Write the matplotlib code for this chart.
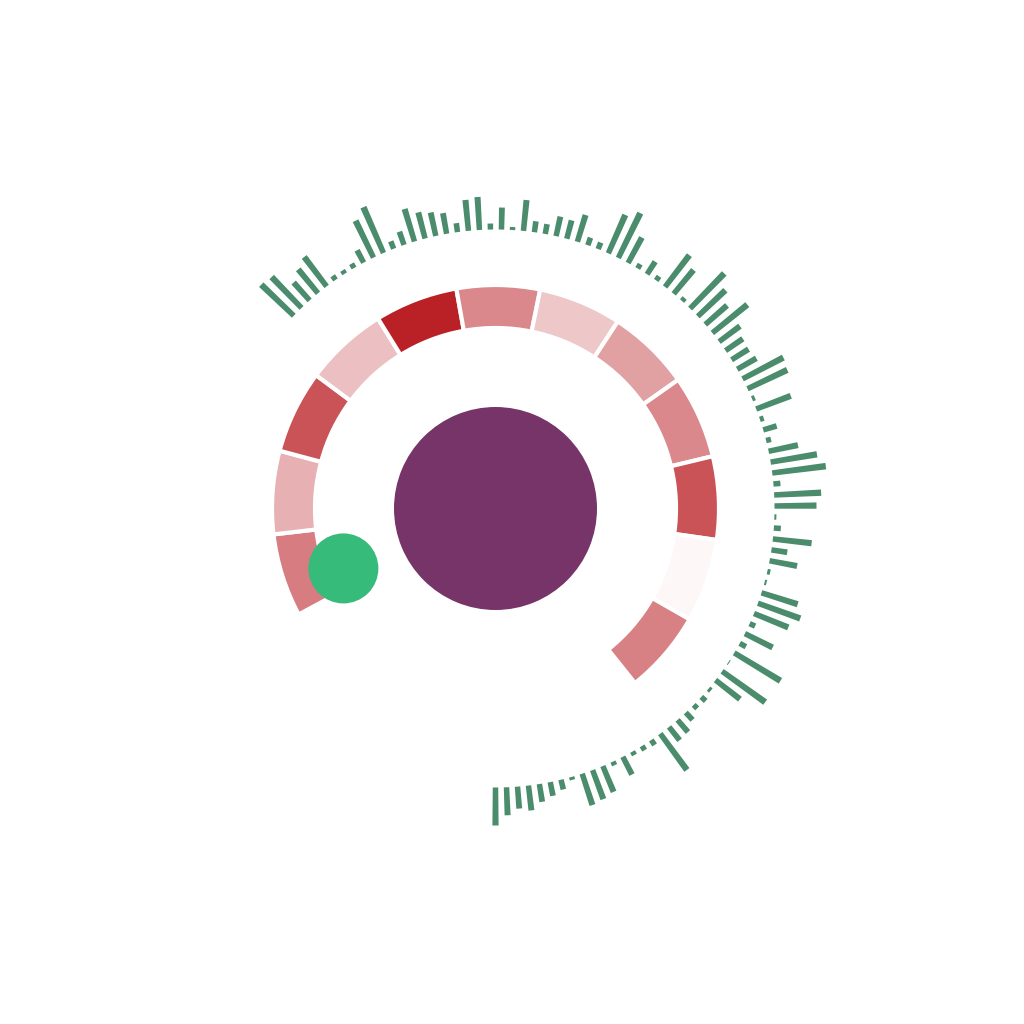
import numpy as np
import matplotlib
matplotlib.use("Agg")
import matplotlib.pyplot as plt
from matplotlib.colors import LinearSegmentedColormap

# ---------------- data ----------------
ring_values = [0.58, 0.34, 0.77, 0.27, 1.0, 0.53, 0.24, 0.42, 0.53, 0.77, 0.02, 0.56]
bar_values = [38, 28, 22, 25, 18, 14, 10, 3, 33, 31,
              28, 4, 20, 4, 5, 6, 45, 17, 16, 10,
              5, 6, 3, 31, 53, 1, 54, 7, 31, 6,
              37, 45, 38, 2, 3, 28, 16, 39, 7, 2,
              42, 47, 7, 54, 47, 30, 5, 14, 4, 37,
              3, 44, 46, 22, 20, 21, 26, 45, 29, 38,
              49, 4, 31, 40, 5, 15, 5, 29, 50, 42,
              7, 8, 28, 19, 20, 10, 11, 31, 3, 22,
              6, 33, 31, 9, 21, 24, 27, 34, 14, 8,
              50, 41, 14, 5, 4, 5, 37, 31, 24, 43, 45]
center_value = 101.5
dot_angle_deg = -111.5
dot_radius = 163.5

# ---------------- layout ----------------
W = 1024
cx, cy = 495.5, 1024 - 508.5
R = 420
fig = plt.figure(figsize=(W / 100, W / 100), dpi=100)
ax = fig.add_axes([(cx - R) / W, (cy - R) / W, 2 * R / W, 2 * R / W], projection="polar")
ax.set_theta_zero_location("N")
ax.set_theta_direction(-1)
ax.set_ylim(0, R)
ax.axis("off")

# ring of segments
cmap = LinearSegmentedColormap.from_list("reds", ["#fefbfb", "#ba2127"])
ring_start = -118.3
ring_step = 21.64
n_ring = len(ring_values)
ring_theta = np.deg2rad(ring_start + ring_step * (np.arange(n_ring) + 0.5))
ax.bar(ring_theta, 43, width=np.deg2rad(ring_step), bottom=180.5,
       color=[cmap(v) for v in ring_values], edgecolor="white", linewidth=3, align="center")

# outer green bars
bar_step = 2.263
bar_theta = np.deg2rad(180 - bar_step * np.arange(len(bar_values)))
ax.bar(bar_theta, bar_values, width=np.deg2rad(1.12), bottom=279,
       color="#4a8c6c", edgecolor="none", align="center")

# centre disk
ax.bar(0, center_value, width=2 * np.pi, bottom=0, color="#763468", edgecolor="none")

# green dot
ax.scatter([np.deg2rad(dot_angle_deg)], [dot_radius], s=(70 * 0.72) ** 2,
           color="#36bb7a", edgecolors="none", zorder=5)

fig.savefig("out.png", dpi=100, facecolor="white")
